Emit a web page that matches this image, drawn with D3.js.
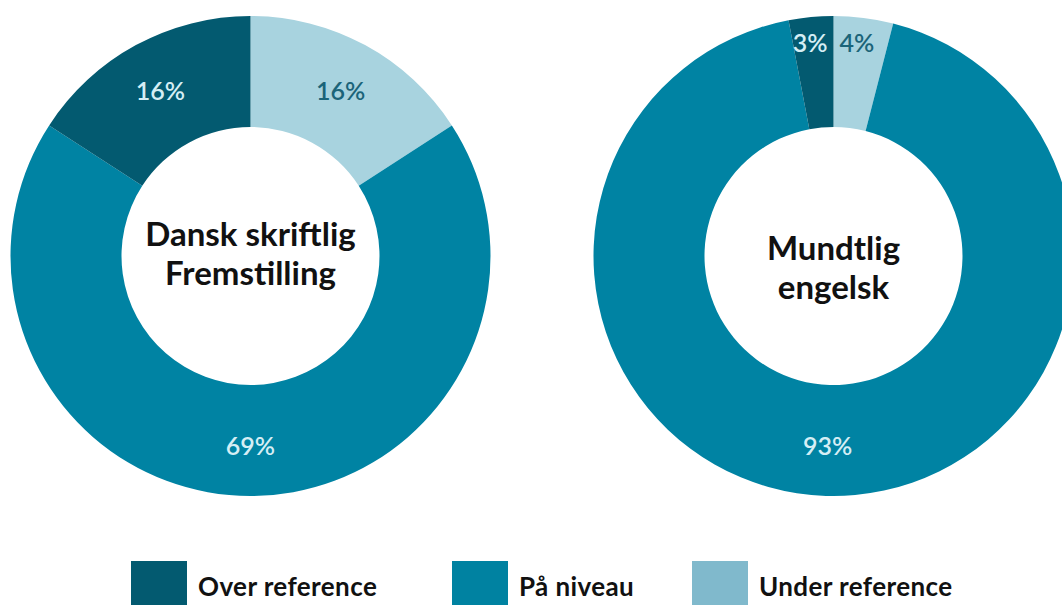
<!DOCTYPE html>
<html>
<head>
<meta charset="utf-8">
<script src="https://cdn.jsdelivr.net/npm/d3@7"></script>
<style>
  body { margin: 0; background: #fff; }
  svg { display: block; font-family: Lato, "Open Sans", sans-serif; }
</style>
</head>
<body>
<svg width="1062" height="605"></svg>
<script>
// Data
const categories = ["Under reference", "På niveau", "Over reference"];
const fagTitler = [["Dansk skriftlig", "Fremstilling"], ["Mundtlig", "engelsk"]];
const danskVaerdier = [16, 69, 16];
const engelskVaerdier = [4, 93, 3];

// Farver
const sliceColors = ["#a8d3df", "#0083a3", "#035a70"];
const legendColors = ["#035a70", "#0082a1", "#80b9cc"];
const labelColors = ["#1b6479", "#d5eef5", "#d5eef5"];
const legendOrder = [2, 1, 0];

// Layout
const cy = 256;
const outerR = 240, innerR = 129;
const donuts = [
    { cx: 250.5, values: danskVaerdier, titel: fagTitler[0], titleY: 246 },
    { cx: 833.5, values: engelskVaerdier, titel: fagTitler[1], titleY: 260 }
];

const svg = d3.select("svg");

const pie = d3.pie().sort(null).value(d => d);
const arc = d3.arc().innerRadius(innerR).outerRadius(outerR);
const labelArc = d3.arc().innerRadius(189).outerRadius(189);

donuts.forEach(function (donut) {
    const g = svg.append("g")
        .attr("transform", "translate(" + donut.cx + "," + cy + ")");

    const arcs = pie(donut.values);

    g.selectAll("path")
        .data(arcs)
        .enter().append("path")
        .attr("d", arc)
        .attr("fill", (d, i) => sliceColors[i]);

    // Procent-labels
    g.selectAll("text.pct")
        .data(arcs)
        .enter().append("text")
        .attr("class", "pct")
        .attr("fill", (d, i) => labelColors[i])
        .attr("font-size", 25)
        .attr("font-weight", 600)
        .attr("dominant-baseline", "central")
        .each(function (d) {
            const el = d3.select(this);
            const mid = (d.startAngle + d.endAngle) / 2;
            if (d.data < 10) {
                // små andele: placeres tæt på toppen, ved siden af hinanden
                const side = Math.sin(mid) >= 0 ? 1 : -1;
                el.attr("x", side * 6)
                  .attr("y", -214)
                  .attr("text-anchor", side > 0 ? "start" : "end");
            } else {
                const c = labelArc.centroid(d);
                el.attr("x", c[0]).attr("y", c[1]).attr("text-anchor", "middle");
            }
        })
        .text(d => d.data + "%");

    // Titel i midten
    const t = g.append("text")
        .attr("text-anchor", "middle")
        .attr("font-size", 33)
        .attr("font-weight", 700)
        .attr("fill", "#111");
    donut.titel.forEach(function (linje, i) {
        t.append("tspan")
            .attr("x", 0)
            .attr("y", donut.titleY - cy + i * 39)
            .text(linje);
    });
});

// Legend
const legendX = [131, 452, 692];
const legend = svg.append("g");
legendOrder.forEach(function (ci, i) {
    const item = legend.append("g")
        .attr("transform", "translate(" + legendX[i] + ",561)");
    item.append("rect")
        .attr("width", 56)
        .attr("height", 50)
        .attr("fill", legendColors[i]);
    item.append("text")
        .attr("x", 67)
        .attr("y", 35)
        .attr("font-size", 26)
        .attr("font-weight", 700)
        .attr("letter-spacing", 0.4)
        .attr("fill", "#111")
        .text(categories[ci]);
});
</script>
</body>
</html>
